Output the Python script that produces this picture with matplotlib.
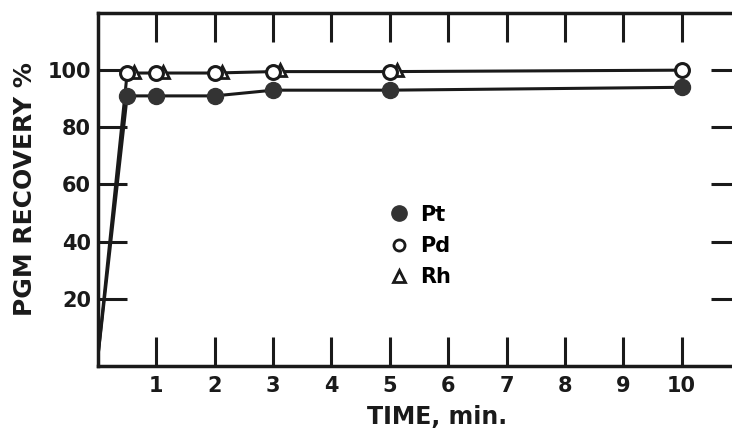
import numpy as np
import matplotlib
matplotlib.use("Agg")
import matplotlib.pyplot as plt
from matplotlib.lines import Line2D
from matplotlib.transforms import offset_copy

# data (first point is the origin the curves start from)
t_pt = [0, 0.5, 1, 2, 3, 5, 10]
pt = [0, 91, 91, 91, 93, 93, 94]

t_pd = [0, 0.5, 1, 2, 3, 5, 10]
pd_ = [0, 99, 99, 99, 99.5, 99.5, 100]

t_rh = [0.5, 1, 2, 3, 5]
rh = [99, 99, 99, 99.5, 99.5]

x_ticks = [1, 2, 3, 4, 5, 6, 7, 8, 9, 10]
y_ticks = [20, 40, 60, 80, 100]

plt.rcParams['font.family'] = 'DejaVu Sans'
plt.rcParams['font.weight'] = 'bold'

fig = plt.figure(figsize=(7.32, 4.38), dpi=100)
ax = fig.add_axes([98 / 732, (438 - 366) / 438, 642 / 732, 353 / 438])

ink = '#1a1a1a'

# Pt: filled circles, steep rise then flat line
ax.plot(t_pt, pt, color=ink, lw=2.2, zorder=2)
ax.plot(t_pt[1:], pt[1:], ls='none', marker='o', ms=11.5,
        mfc='#333333', mec='#333333', zorder=4)

# Pd: open circles
ax.plot(t_pd, pd_, color=ink, lw=2.2, zorder=2)
ax.plot(t_pd[1:], pd_[1:], ls='none', marker='o', ms=10,
        mfc='white', mec=ink, mew=2.2, zorder=5)

# Rh: open triangles, drawn just right of the Pd circles
tr = offset_copy(ax.transData, fig=fig, x=5, y=1, units='points')
ax.plot(t_rh, rh, ls='none', marker='^', ms=8.5, mfc='white', mec=ink,
        mew=2.0, transform=tr, zorder=4)

ax.set_xlim(0, 11)
ax.set_ylim(-3.5, 120)

ax.set_xticks(x_ticks)
ax.set_xticklabels([str(v) for v in x_ticks])
ax.set_yticks(y_ticks)
ax.set_yticklabels([str(v) for v in y_ticks])

ax.tick_params(axis='both', direction='in', length=21, width=2.2,
               colors=ink, labelsize=15, top=True, right=True)
ax.tick_params(axis='x', pad=7)
ax.tick_params(axis='y', pad=5)

for s in ax.spines.values():
    s.set_linewidth(2.5)
    s.set_color(ink)

ax.set_xlabel('TIME, min.', fontsize=17, fontweight='bold', color=ink)
ax.xaxis.set_label_coords(0.528, -0.11)
ax.set_ylabel('PGM RECOVERY %', fontsize=18, fontweight='bold', color=ink)
ax.yaxis.set_label_coords(-0.095, 0.5)

handles = [
    Line2D([], [], ls='none', marker='o', ms=11, mfc='#333333', mec='#333333'),
    Line2D([], [], ls='none', marker='o', ms=8, mfc='white', mec=ink, mew=2),
    Line2D([], [], ls='none', marker='^', ms=9, mfc='white', mec=ink, mew=2),
]
ax.legend(handles, ['Pt', 'Pd', 'Rh'], loc='center', frameon=False,
          bbox_to_anchor=(0.5, 0.34), fontsize=15, handletextpad=0.4,
          labelspacing=0.55, handlelength=1.2)

fig.savefig('out.png', dpi=100)
